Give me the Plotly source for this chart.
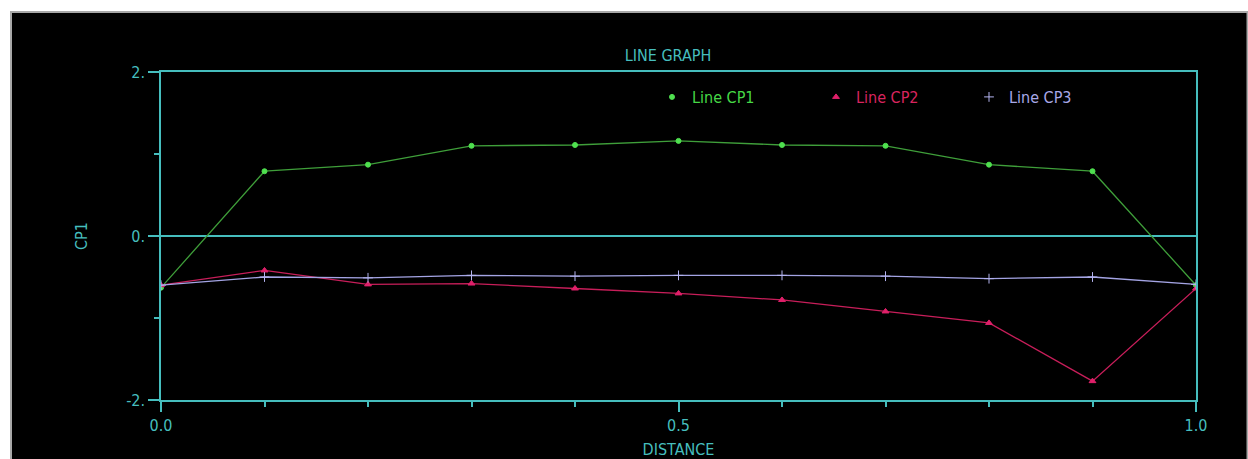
import plotly.graph_objects as go

# ---- data ----
distance = [0.0, 0.1, 0.2, 0.3, 0.4, 0.5, 0.6, 0.7, 0.8, 0.9, 1.0]
cp1 = [-0.63, 0.79, 0.87, 1.10, 1.11, 1.16, 1.11, 1.10, 0.87, 0.79, -0.60]
cp2 = [-0.60, -0.42, -0.59, -0.58, -0.64, -0.70, -0.78, -0.92, -1.06, -1.77, -0.64]
cp3 = [-0.60, -0.50, -0.51, -0.48, -0.49, -0.48, -0.48, -0.49, -0.52, -0.50, -0.59]
series_names = ["Line CP1", "Line CP2", "Line CP3"]
y_tick_vals = [-2, 0, 2]
y_tick_text = ["-2.", "0.", "2."]
x_tick_vals = [0.0, 0.5, 1.0]
x_tick_text = ["0.0", "0.5", "1.0"]

# ---- styles ----
W, H = 1248, 459
ML, MR, MT, MB = 161, 52, 72, 59
PW, PH = W - ML - MR, H - MT - MB
TEAL = "#46bebe"
FONT = "Liberation Sans Narrow, DejaVu Sans Condensed, Arial Narrow, sans-serif"
line_cols = ["#3f9f3a", "#c81e5a", "#a4a4e4"]
mark_cols = ["#4fe04f", "#e0206a", "#b4b4f0"]
text_cols = ["#46d846", "#d8245e", "#a8a8e8"]
symbols = ["circle", "triangle-up", "cross-thin"]
msizes = [5, 6, 7]

fig = go.Figure()
for i, ys in enumerate([cp1, cp2, cp3]):
    fig.add_trace(go.Scatter(
        x=distance, y=ys, mode="lines+markers", showlegend=False,
        line=dict(color=line_cols[i], width=1.3),
        marker=dict(symbol=symbols[i], size=msizes[i], color=mark_cols[i],
                    line=dict(color=mark_cols[i], width=1)),
        name=series_names[i],
    ))

legend_ids = ["legend", "legend2", "legend3"]
legend_px = [652, 816, 969]
for i in range(3):
    fig.add_trace(go.Scatter(
        x=[None], y=[None], mode="markers", name=series_names[i],
        legend=legend_ids[i],
        marker=dict(symbol=symbols[i], size=msizes[i], color=mark_cols[i],
                    line=dict(color=mark_cols[i], width=1)),
    ))

leg_y = (H - MB - 97) / PH
legend_layout = {}
for i, lid in enumerate(legend_ids):
    legend_layout[lid] = dict(
        x=(legend_px[i] - ML) / PW, y=leg_y, xanchor="left", yanchor="middle",
        bgcolor="rgba(0,0,0,0)", borderwidth=0,
        font=dict(family=FONT, size=16, color=text_cols[i]),
    )

# black panel with grey frame
fig.add_shape(type="rect", xref="paper", yref="paper", layer="below",
              x0=(11 - ML) / PW, x1=(1247.5 - ML) / PW,
              y0=(H - MB - 462) / PH, y1=(H - MB - 12) / PH,
              fillcolor="black", line=dict(color="#a8a8a8", width=2))

fig.update_layout(
    width=W, height=H,
    margin=dict(l=ML, r=MR, t=MT, b=MB, autoexpand=False),
    paper_bgcolor="white", plot_bgcolor="black",
    font=dict(family=FONT, size=16, color=TEAL),
    title=dict(text="LINE GRAPH", x=668 / W, xanchor="center",
               y=1 - 55 / H, yanchor="middle",
               font=dict(family=FONT, size=16, color=TEAL)),
    **legend_layout,
)

fig.update_xaxes(
    range=[0, 1], showgrid=False, zeroline=False,
    showline=True, linecolor=TEAL, linewidth=1.5, mirror=True,
    tickmode="array", tickvals=x_tick_vals, ticktext=x_tick_text,
    ticks="outside", ticklen=10, tickwidth=1.5, tickcolor=TEAL,
    minor=dict(dtick=0.1, ticks="outside", ticklen=5, tickwidth=1.5, tickcolor=TEAL),
    tickfont=dict(family=FONT, size=16, color=TEAL),
    title=dict(text="DISTANCE", standoff=10, font=dict(family=FONT, size=16, color=TEAL)),
    automargin=False,
)
fig.update_yaxes(
    range=[-2, 2], showgrid=False,
    zeroline=True, zerolinecolor=TEAL, zerolinewidth=1.5,
    showline=True, linecolor=TEAL, linewidth=1.5, mirror=True,
    tickmode="array", tickvals=y_tick_vals, ticktext=y_tick_text,
    ticks="outside", ticklen=11, tickwidth=1.5, tickcolor=TEAL,
    minor=dict(dtick=1, ticks="outside", ticklen=5, tickwidth=1.5, tickcolor=TEAL),
    tickfont=dict(family=FONT, size=16, color=TEAL),
    title=dict(text="CP1", standoff=35, font=dict(family=FONT, size=16, color=TEAL)),
    automargin=False,
)

fig.write_html("out.html",
               config={"displayModeBar": False},
               post_script="document.body.style.margin='0';document.body.style.padding='0';")
